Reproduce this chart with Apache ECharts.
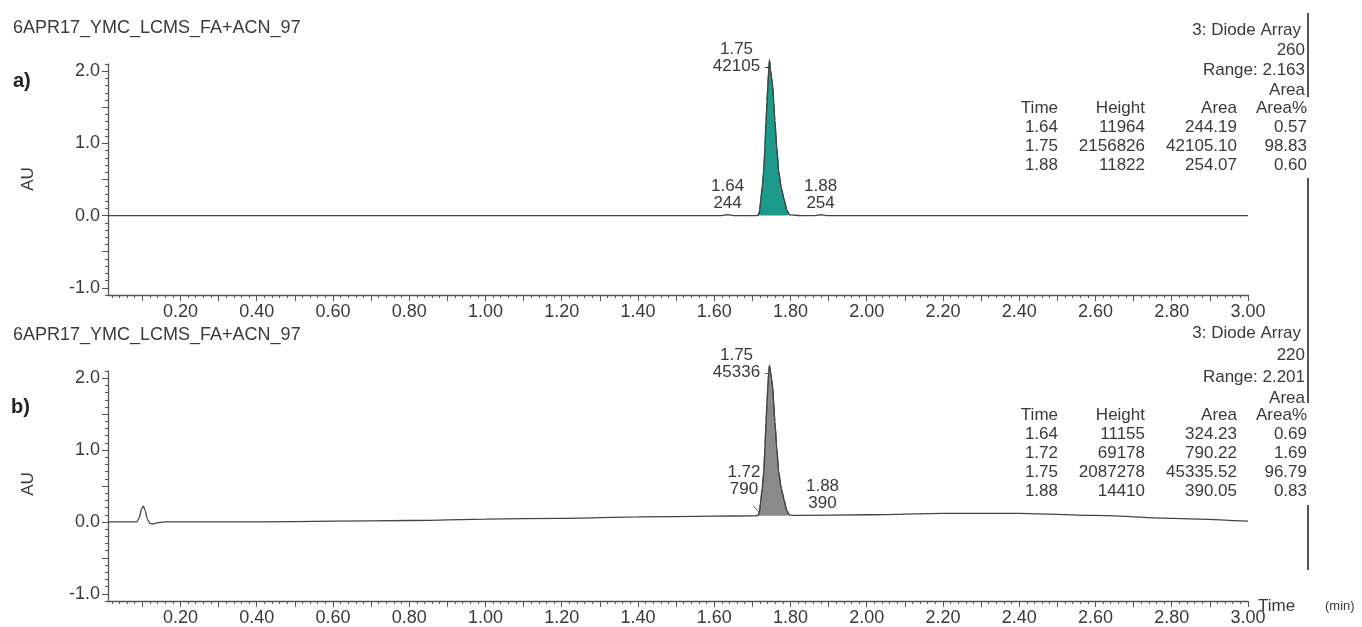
<!DOCTYPE html>
<html>
<head>
<meta charset="utf-8">
<script src="https://cdn.jsdelivr.net/npm/echarts@6/dist/echarts.min.js"></script>
<style>
html,body{margin:0;padding:0;background:#fff;}
#chart{width:1362px;height:627px;}
</style>
</head>
<body>
<div id="chart"></div>
<script>
// ---------- DATA ----------
const sampleName = '6APR17_YMC_LCMS_FA+ACN_97';
const xTickLabels = [0.20,0.40,0.60,0.80,1.00,1.20,1.40,1.60,1.80,2.00,2.20,2.40,2.60,2.80,3.00];
const yTickLabels = [-1.0, 0.0, 1.0, 2.0];

// panel a) 260 nm trace
const topTime = [0.01,0.30,0.60,0.90,1.20,1.50,1.62,1.635,1.65,1.70,1.712,1.716,1.719,1.722,1.726,1.730,1.733,1.736,1.7385,1.7405,1.743,1.745,1.7475,1.750,1.7537,1.756,1.759,1.764,1.769,1.776,1.784,1.790,1.797,1.83,1.865,1.88,1.895,2.10,2.40,2.70,3.00];
const topAU   = [0,0,0,0,0,0,0,0.012,0,0,0,0.01,0.06,0.21,0.40,0.62,0.95,1.32,1.58,1.78,2.02,2.157,2.02,1.92,1.78,1.58,1.32,0.95,0.62,0.38,0.21,0.08,0.01,0,0,0.012,0,0,0,0,0];

// panel b) 220 nm trace
const botTime = [0.01,0.05,0.085,0.092,0.098,0.103,0.108,0.113,0.12,0.128,0.14,0.16,0.40,0.60,0.80,1.00,1.20,1.40,1.60,1.70,1.712,1.716,1.719,1.722,1.726,1.730,1.733,1.736,1.7385,1.7405,1.743,1.745,1.7475,1.750,1.7537,1.756,1.759,1.764,1.769,1.776,1.784,1.790,1.797,1.82,2.00,2.20,2.40,2.60,2.80,3.00];
const botAU   = [0,0,0,0.06,0.18,0.22,0.15,0.04,-0.02,-0.03,-0.01,0,0,0.01,0.02,0.04,0.05,0.07,0.08,0.085,0.086,0.10,0.15,0.29,0.47,0.70,1.03,1.40,1.66,1.86,2.09,2.177,2.09,2.00,1.86,1.66,1.40,1.03,0.70,0.46,0.29,0.16,0.095,0.09,0.10,0.12,0.12,0.09,0.05,0.01];

// integrated main peak windows and baseline level
const topPeakWindow = [1.712, 1.797];
const botPeakWindow = [1.712, 1.797];
const botPeakBase = 0.085;

// peak annotations (RT / area) and their anchor points
const topPeakRT   = ['1.64','1.75','1.88'];
const topPeakArea = ['244','42105','254'];
const topPeakPos  = [[1.635,0],[1.745,2.05],[1.879,0]];
const botPeakRT   = ['1.72','1.75','1.88'];
const botPeakArea = ['790','45336','390'];
const botPeakPos  = [[1.72,0.085],[1.745,2.05],[1.884,0.09]];

// tables
const tableHeader = ['Time','Height','Area','Area%'];
const topInfo = ['3: Diode Array','260','Range: 2.163','Area'];
const topTimes = ['1.64','1.75','1.88'];
const topHeights = ['11964','2156826','11822'];
const topAreas = ['244.19','42105.10','254.07'];
const topPct = ['0.57','98.83','0.60'];
const botInfo = ['3: Diode Array','220','Range: 2.201','Area'];
const botTimes = ['1.64','1.72','1.75','1.88'];
const botHeights = ['11155','69178','2087278','14410'];
const botAreas = ['324.23','790.22','45335.52','390.05'];
const botPct = ['0.69','1.69','96.79','0.83'];

// ---------- BUILD ----------
const FONT = "'Liberation Sans', Arial, sans-serif";
const TXT = '#3a3a3a';
const AX = '#555';

const zip = (t, v) => t.map((x, i) => [x, v[i]]);
const topData = zip(topTime, topAU);
const botData = zip(botTime, botAU);
const inWin = (d, w) => d.filter(p => p[0] >= w[0] && p[0] <= w[1]);

const r2 = v => Math.round(v * 100) / 100;
const xMinor = []; for (let i = 1; i <= 150; i++) xMinor.push(r2(i * 0.02));
const xMid = []; for (let i = 1; i <= 30; i++) xMid.push(r2(i * 0.1));
const yMinor = []; for (let i = -11; i <= 21; i++) yMinor.push(r2(i * 0.1));
const yMid = [-1, -0.5, 0, 0.5, 1, 1.5, 2];

const XMIN = 0.01, XMAX = 3.0, YMIN = -1.1, YMAX = 2.1;

function xAxes(grid) {
  return [
    { type:'value', gridIndex:grid, min:XMIN, max:XMAX, position:'bottom',
      axisLine:{show:true, onZero:false, lineStyle:{color:AX, width:1.3}},
      axisTick:{show:true, customValues:xMinor, length:3, lineStyle:{color:AX}},
      axisLabel:{show:true, customValues:xTickLabels, formatter:v=>v.toFixed(2), color:TXT, fontSize:18, fontFamily:FONT, margin:8},
      splitLine:{show:false} },
    { type:'value', gridIndex:grid, min:XMIN, max:XMAX, position:'bottom',
      axisLine:{show:false, onZero:false},
      axisTick:{show:true, customValues:xMid, length:6, lineStyle:{color:AX}},
      axisLabel:{show:false}, splitLine:{show:false} }
  ];
}
function yAxes(grid) {
  return [
    { type:'value', gridIndex:grid, min:YMIN, max:YMAX, position:'left',
      axisLine:{show:true, onZero:false, lineStyle:{color:AX, width:1.3}},
      axisTick:{show:true, customValues:yMinor, length:3, lineStyle:{color:AX}},
      axisLabel:{show:true, customValues:yTickLabels, formatter:v=>v.toFixed(1), color:TXT, fontSize:18, fontFamily:FONT, margin:8},
      splitLine:{show:false} },
    { type:'value', gridIndex:grid, min:YMIN, max:YMAX, position:'left',
      axisLine:{show:false, onZero:false},
      axisTick:{show:true, customValues:yMid, length:6, lineStyle:{color:AX}},
      axisLabel:{show:false}, splitLine:{show:false} }
  ];
}

function peakMarks(rts, areas, pos, offsets) {
  return {
    symbol:'circle', symbolSize:0, silent:true,
    data: rts.map((rt, i) => ({
      name: rt + '\n' + areas[i], coord: pos[i],
      label:{ show:true, position:'inside', offset:offsets[i], formatter:p=>p.name,
              color:TXT, fontSize:17, fontFamily:FONT, lineHeight:17, align:'center' }
    }))
  };
}

const series = [
  // panel a
  { type:'line', xAxisIndex:0, yAxisIndex:0, data:inWin(topData, topPeakWindow), showSymbol:false, clip:false,
    smooth:0.2, smoothMonotone:'x', lineStyle:{color:'#14625b', width:1.2},
    areaStyle:{color:'#1c9a8c', opacity:1, origin:0}, z:2, silent:true },
  { type:'line', xAxisIndex:0, yAxisIndex:0, data:topData, showSymbol:false, clip:false,
    smooth:0.2, smoothMonotone:'x', lineStyle:{color:'#444', width:1.3}, z:3, silent:true,
    markPoint: peakMarks(topPeakRT, topPeakArea, topPeakPos, [[0,-21],[-33,-10],[0,-21]]),
    markLine:{ symbol:'none', silent:true, lineStyle:{color:'#333', width:1, type:'solid'}, label:{show:false},
      data:[[{coord:[1.733,2.06]},{coord:[1.745,2.06]}]] } },
  // panel b
  { type:'line', xAxisIndex:2, yAxisIndex:2, data:inWin(botData, botPeakWindow), showSymbol:false, clip:false,
    smooth:0.2, smoothMonotone:'x', lineStyle:{color:'#4a4a4a', width:1.2},
    areaStyle:{color:'#8a8a8a', opacity:1, origin:botPeakBase}, z:2, silent:true },
  { type:'line', xAxisIndex:2, yAxisIndex:2, data:botData, showSymbol:false, clip:false,
    smooth:0.2, smoothMonotone:'x', lineStyle:{color:'#444', width:1.3}, z:3, silent:true,
    markPoint: peakMarks(botPeakRT, botPeakArea, botPeakPos, [[-16,-35],[-33,-11],[0,-21]]),
    markLine:{ symbol:'none', silent:true, lineStyle:{color:'#2c6f66', width:1, type:'solid'}, label:{show:false},
      data:[[{coord:[1.703,0.22]},{coord:[1.719,0.13]}],
            [{coord:[1.733,2.07]},{coord:[1.745,2.07]}]] } }
];

// graphic texts
function T(x, y, s, o) {
  o = o || {};
  return { type:'text', x:x, y:y, z:100, rotation:o.rot || 0, silent:true,
    style:{ text:s, fill:o.color || TXT, fontSize:o.size || 17, fontFamily:FONT,
            fontWeight:o.weight || 'normal', align:o.align || 'right', verticalAlign:'middle' } };
}
const colX = [1058, 1145, 1237, 1307];
function table(infoY, info, headerY, cols) {
  const els = [];
  els.push(T(1301, infoY[0], info[0]));
  for (let i = 1; i < info.length; i++) els.push(T(1305, infoY[i], info[i]));
  tableHeader.forEach((h, c) => els.push(T(colX[c], headerY, h)));
  cols.forEach((col, c) => col.forEach((v, r) => els.push(T(colX[c], headerY + 19 * (r + 1), v))));
  return els;
}

const graphic = [].concat(
  [ T(13, 28, sampleName, {align:'left', size:18}),
    T(13, 335, sampleName, {align:'left', size:18}),
    T(13, 81, 'a)', {align:'left', size:20, weight:'bold', color:'#222'}),
    T(11, 407, 'b)', {align:'left', size:20, weight:'bold', color:'#222'}),
    T(28, 179, 'AU', {align:'center', size:17, rot:Math.PI/2}),
    T(28, 484, 'AU', {align:'center', size:17, rot:Math.PI/2}),
    T(1258, 606, 'Time', {align:'left', size:17}),
    T(1325, 606, '(min)', {align:'left', size:13}),
    { type:'line', silent:true, shape:{x1:1308,y1:13,x2:1308,y2:97}, style:{stroke:'#555', lineWidth:2} },
    { type:'line', silent:true, shape:{x1:1308,y1:178,x2:1308,y2:403}, style:{stroke:'#555', lineWidth:2} },
    { type:'line', silent:true, shape:{x1:1308,y1:505,x2:1308,y2:570}, style:{stroke:'#555', lineWidth:2} }
  ],
  table([30, 50, 70, 90], topInfo, 108, [topTimes, topHeights, topAreas, topPct]),
  table([333, 355, 377, 398], botInfo, 415, [botTimes, botHeights, botAreas, botPct])
);

const chart = echarts.init(document.getElementById('chart'), null, {renderer:'canvas'});
chart.setOption({
  animation:false,
  backgroundColor:'#fff',
  grid:[
    {left:108, top:64, width:1140, height:231},
    {left:108, top:371, width:1140, height:231}
  ],
  xAxis: xAxes(0).concat(xAxes(1)),
  yAxis: yAxes(0).concat(yAxes(1)),
  series: series,
  graphic: graphic
});
</script>
</body>
</html>
